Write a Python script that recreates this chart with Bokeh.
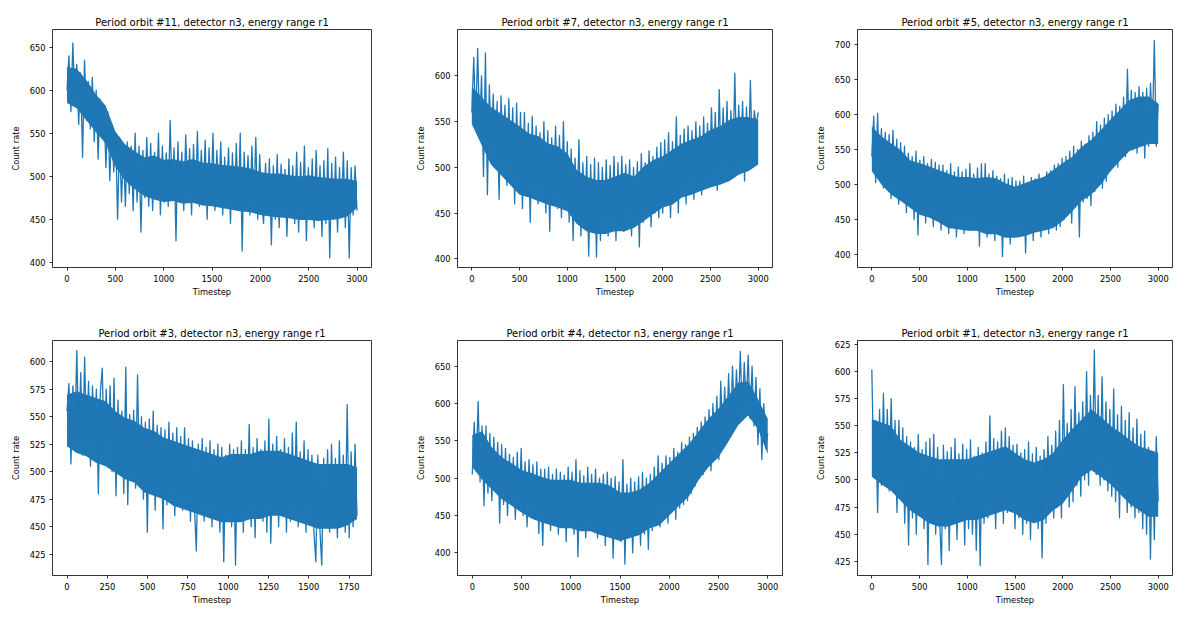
import numpy as np
from bokeh.plotting import figure
from bokeh.layouts import column, row
from bokeh.models import FixedTicker, Range1d
from bokeh.embed import file_html
from bokeh.resources import INLINE

titles = [
    "Period orbit #11, detector n3, energy range r1",
    "Period orbit #7, detector n3, energy range r1",
    "Period orbit #5, detector n3, energy range r1",
    "Period orbit #3, detector n3, energy range r1",
    "Period orbit #4, detector n3, energy range r1",
    "Period orbit #1, detector n3, energy range r1",
]
n_steps = [3000, 3000, 3000, 1800, 3000, 3000]

# sampled count-rate trace of each orbit (spikes included)
orbit11 = [600, 640, 575, 655, 590, 630,
           560, 620, 522, 635, 565, 610, 555,
           615, 540, 600, 520, 590, 545, 580, 510, 575, 495, 560, 505, 550,
           450, 545, 470, 530, 465, 540, 480, 535, 460, 550,
           470, 535, 435, 530, 475, 545, 465, 538, 460, 528, 480, 550, 455, 535, 470, 527, 465, 565, 475, 533,
           425, 540, 470, 528, 460, 548, 480, 532, 455, 537, 470, 552, 465, 530, 475, 542, 450, 533, 470, 550,
           460, 530, 470, 540, 455, 522, 475, 533, 445, 527, 465, 538, 460, 550, 413, 528, 470, 524, 455, 535,
           465, 545, 450, 525, 470,
           445, 515, 460, 520, 420, 512, 450, 525, 440, 514, 460, 508, 430, 520, 455, 512, 445, 528, 435, 516,
           460, 535, 425, 510, 450, 520, 440, 530, 455, 512, 430, 518, 445, 532, 405, 515, 450, 522, 435, 510,
           455, 528, 440, 518, 405, 510, 455, 512, 460]

orbit7 = [560, 620, 545, 630, 540, 600, 490, 625,
          470, 590, 520, 580, 500, 572, 465, 578, 510, 568, 480, 575, 495, 565, 460, 570, 485, 560,
          455, 560, 470, 548, 440, 556, 480, 545, 460, 538, 470, 550, 450, 540, 430, 532, 475, 545, 455, 535,
          445, 550, 465, 528,
          440, 520, 420, 510, 450, 530, 425, 505, 445, 512, 403, 503, 430, 510, 402, 505, 420, 500, 440, 508,
          425, 502, 445, 512,
          420, 505, 440, 512, 430, 503, 450, 508, 425, 500, 445, 506, 413, 515, 440, 505, 455, 518, 435, 512,
          450, 522, 445, 527,
          450, 530, 465, 538, 445, 528, 470, 555, 450, 535, 475, 542, 460, 545, 480, 540, 465, 550, 475, 545,
          470, 555, 480, 548,
          485, 565, 500, 560, 475, 585, 495, 565, 505, 572, 490, 562, 500, 603, 495, 568, 510, 572, 485, 566,
          500, 595, 505, 562, 545, 560]

orbit5 = [540, 598, 503,
          602, 510, 580, 495, 575, 500, 572, 480, 578, 490, 565, 472, 560,
          480, 555, 460, 545, 470, 540, 450, 548, 428, 535, 465, 540, 445, 530, 470, 536, 440, 532, 460, 528,
          435, 528, 450, 520, 430, 530, 445, 518, 425, 525, 455, 518, 430, 522, 440, 530, 435, 515, 450, 524,
          412, 530, 440, 530, 425, 515, 445, 520, 420, 512, 440, 508, 397, 515, 430, 508, 415, 510, 440, 505,
          425, 505, 440, 512, 402, 503, 430, 510, 420, 508, 445, 515, 425, 510, 440, 518, 430, 520, 445, 528,
          435, 530, 440, 538,
          450, 540, 460, 548, 445, 555, 470, 550, 425, 562, 475, 558, 480, 570, 470, 575, 490, 590, 500, 585,
          495, 595, 505, 600,
          520, 605, 535, 615, 525, 612, 545, 625, 540, 665, 555, 635, 550, 632, 545, 640, 560, 632, 538, 638,
          555, 645, 575, 706, 555, 615]

orbit3 = [555, 580, 507, 578, 530, 610, 525, 590, 515,
          604, 525, 582, 505, 578, 530, 575, 480, 572, 594, 510, 575, 520, 578, 500, 585, 478,
          565, 500, 555, 480, 595, 470, 552, 495, 556, 485, 588, 490, 550, 475, 545, 445, 548,
          480, 555, 465, 542, 490, 540, 448, 538, 470, 545, 485, 535, 460, 540, 475, 532, 465, 540, 480, 530,
          455,
          528, 470, 428, 525, 465, 530, 455, 522, 470, 528, 450, 520, 465, 525, 445, 522, 418, 515, 460, 525,
          450, 520, 415, 522, 455, 528, 445, 520, 465, 543, 450, 522, 440, 530, 460, 520, 455, 528, 445, 548,
          435, 525, 465, 532, 450, 520, 460, 530, 445, 522, 455, 535, 465, 545, 450, 518, 460, 528, 445, 520,
          455,
          515, 445, 418, 515, 450, 415, 512, 455, 520, 445, 525, 455, 512, 440, 528, 450, 515, 445, 561, 440,
          518, 450, 525, 460]

orbit4 = [505, 575, 510, 603, 495, 570,
          463, 570, 480, 560, 470, 555, 485, 548, 440, 545,
          465, 540, 450, 532, 470, 528, 445, 535, 460, 540, 450, 522, 435, 525, 465, 518, 445, 522, 426, 512,
          410, 512, 440, 515, 430, 505, 445, 512, 425, 508, 440, 504, 415, 515, 435, 508, 425, 525, 395, 510,
          435, 503, 420, 515, 440, 505, 430, 512, 420, 500, 435, 505, 410, 508, 430, 500, 393, 502, 425, 495,
          415, 525, 385, 492, 420, 500, 400, 495, 430, 502, 410, 508, 425, 500, 405, 505, 430, 515, 440, 530,
          435, 520, 450, 530, 440, 528, 455, 540, 445, 535, 460, 548, 465, 545, 470, 555, 480, 560, 490, 568,
          500, 575, 505, 582, 515, 592, 510, 600, 530, 610, 525, 630, 545, 622, 555, 640, 565, 650, 575, 645,
          590, 670, 585, 655, 595, 665, 580, 650, 570, 635, 545, 620, 525, 600, 540, 560]

orbit1 = [602, 510, 555,
          470, 565, 495, 580, 500, 565, 490, 575, 505, 555, 470, 555, 490,
          548, 460, 540, 440, 535, 465, 530, 450, 542, 470, 528, 455, 535, 422, 538, 460, 542, 450, 530, 465,
          422, 532, 455, 526, 435, 530, 460, 538, 445, 524, 465, 533, 440, 528, 455, 537, 450, 522, 435, 530,
          421, 525, 460, 535,
          465, 559, 470, 538, 455, 535, 475, 545, 460, 548, 470, 540, 480, 532, 455,
          533, 465, 525, 450, 528, 460, 535, 445, 524, 465, 530, 455, 522, 428, 528, 460, 540, 470, 532, 465,
          545, 475, 555, 465, 588, 490, 552, 475, 565, 480, 586, 495, 562, 485, 572, 500, 600, 495, 578, 510,
          620, 505, 578, 495, 595, 500, 572, 490, 565, 485,
          584, 480, 560, 465, 568, 485, 555, 470, 562, 475, 548, 465, 556, 470, 542,
          455, 545, 450, 530, 427, 525, 445, 540, 480]

# dense core of each trace (where thousands of samples overlap), 31 even steps
core11_hi = [627, 625, 612, 595, 582, 552, 537, 529, 522, 524, 519, 520, 517, 520, 516, 515, 513, 512,
             511, 509, 505, 503, 503, 501, 500, 501, 499, 498, 497, 497, 494]
core11_lo = [585, 579, 565, 551, 538, 511, 495, 485, 477, 473, 470, 471, 468, 469, 466, 465, 463, 461,
             459, 458, 455, 453, 452, 451, 449, 449, 448, 449, 450, 453, 463]
core7_hi = [588, 577, 566, 559, 552, 545, 537, 534, 526, 523, 515, 497, 490, 486, 486, 490, 494, 490,
            501, 508, 512, 519, 526, 530, 534, 541, 545, 552, 555, 555, 552]
core7_lo = [547, 525, 503, 492, 481, 470, 467, 463, 459, 456, 452, 438, 430, 427, 427, 430, 430, 434,
            441, 449, 456, 459, 467, 470, 474, 478, 481, 485, 492, 496, 503]
core5_hi = [583, 569, 559, 550, 535, 531, 526, 521, 516, 511, 511, 509, 511, 509, 502, 497, 502, 507,
            511, 521, 531, 540, 554, 564, 578, 593, 607, 621, 626, 626, 616]
core5_lo = [519, 500, 486, 477, 467, 457, 453, 446, 438, 436, 434, 434, 429, 429, 424, 424, 426, 431,
            434, 438, 448, 462, 477, 486, 500, 519, 534, 548, 553, 558, 558]
core3_hi = [570, 573, 570, 567, 564, 555, 549, 546, 540, 537, 531, 528, 525, 522, 519, 516, 513, 516,
            516, 516, 519, 519, 519, 516, 513, 510, 507, 507, 507, 507, 504]
core3_lo = [523, 517, 514, 508, 505, 499, 493, 490, 481, 478, 475, 469, 466, 463, 460, 457, 454, 454,
            454, 457, 457, 460, 460, 457, 454, 451, 448, 448, 448, 451, 457]
core4_hi = [558, 563, 541, 528, 520, 511, 507, 502, 498, 498, 498, 494, 494, 494, 490, 481, 481, 485,
            494, 507, 520, 533, 546, 563, 580, 593, 610, 628, 630, 606, 580]
core4_lo = [515, 498, 485, 472, 463, 454, 446, 441, 437, 433, 433, 429, 429, 424, 420, 416, 420, 424,
            433, 437, 450, 463, 476, 498, 515, 528, 549, 571, 584, 566, 532]
core1_hi = [556, 553, 550, 537, 531, 525, 522, 519, 519, 519, 519, 522, 525, 528, 531, 525, 519, 516,
            519, 525, 537, 547, 556, 565, 558, 550, 544, 537, 531, 528, 525]
core1_lo = [503, 496, 490, 481, 472, 466, 460, 457, 457, 460, 463, 463, 466, 469, 472, 469, 463, 460,
            463, 472, 478, 490, 503, 509, 503, 496, 487, 478, 472, 466, 466]

series = [orbit11, orbit7, orbit5, orbit3, orbit4, orbit1]
cores = [(core11_lo, core11_hi), (core7_lo, core7_hi), (core5_lo, core5_hi),
         (core3_lo, core3_hi), (core4_lo, core4_hi), (core1_lo, core1_hi)]

x_ticks_3000 = [0, 500, 1000, 1500, 2000, 2500, 3000]
x_ticks_1800 = [0, 250, 500, 750, 1000, 1250, 1500, 1750]
y_ticks = [
    [400, 450, 500, 550, 600, 650],
    [400, 450, 500, 550, 600],
    [400, 450, 500, 550, 600, 650, 700],
    [425, 450, 475, 500, 525, 550, 575, 600],
    [400, 450, 500, 550, 600, 650],
    [425, 450, 475, 500, 525, 550, 575, 600, 625],
]
y_ranges = [(393.8, 670.6), (390.5, 650.6), (381.4, 721.9),
            (405.6, 619.2), (369.7, 684.5), (411.8, 628.7)]

# ---- layout (width, height, border left, right, top, bottom) ----
dims = [
    (412, 305, 52, 41, 29, 38),
    (400, 305, 40, 40, 29, 38),
    (380, 305, 40, 20, 29, 38),
    (412, 308, 52, 41, 34, 37),
    (400, 308, 42, 30, 35, 29),
    (380, 308, 40, 20, 34, 38),
]

FONT = "DejaVu Sans"
BLUE = "#1f77b4"

figs = []
for i in range(6):
    w, h, bl, br, bt, bb = dims[i]
    n = n_steps[i]
    vals = series[i]
    xs = np.linspace(0, n - 1, len(vals))
    lo, hi = cores[i]
    xc = np.linspace(0, n - 1, len(lo))
    margin = 0.05 * (n - 1)
    p = figure(width=w, height=h, output_backend="svg", toolbar_location=None,
               x_range=Range1d(-margin, n - 1 + margin),
               y_range=Range1d(*y_ranges[i]),
               min_border_left=bl, min_border_right=br,
               min_border_top=bt, min_border_bottom=bb)
    p.varea(x=xc, y1=lo, y2=hi, fill_color=BLUE, fill_alpha=1.0)
    p.line(xs, vals, line_color=BLUE, line_width=1.3, line_join="round")
    p.title.text = titles[i]
    p.title.align = "center"
    p.title.text_font = FONT
    p.title.text_font_size = "10px"
    p.title.text_font_style = "normal"
    p.title.text_color = "black"
    p.title.standoff = 4
    p.xgrid.visible = False
    p.ygrid.visible = False
    p.outline_line_color = "black"
    p.outline_line_width = 0.8
    p.background_fill_color = "white"
    p.border_fill_color = "white"
    p.xaxis.ticker = FixedTicker(ticks=x_ticks_1800 if n == 1800 else x_ticks_3000)
    p.yaxis.ticker = FixedTicker(ticks=y_ticks[i])
    p.xaxis.axis_label = "Timestep"
    p.yaxis.axis_label = "Count rate"
    for ax in (p.xaxis, p.yaxis):
        ax.axis_line_color = None
        ax.major_tick_line_color = "black"
        ax.major_tick_line_width = 0.8
        ax.major_tick_out = 3
        ax.major_tick_in = 0
        ax.minor_tick_line_color = None
        ax.major_label_text_font = FONT
        ax.major_label_text_font_size = "8.3px"
        ax.major_label_text_color = "black"
        ax.axis_label_text_font = FONT
        ax.axis_label_text_font_size = "8.3px"
        ax.axis_label_text_font_style = "normal"
        ax.axis_label_text_color = "black"
    p.xaxis.major_label_standoff = 4
    p.xaxis.axis_label_standoff = 2
    p.yaxis.major_label_standoff = 4
    p.yaxis.axis_label_standoff = 6
    figs.append(p)

layout = column(row(figs[0], figs[1], figs[2]), row(figs[3], figs[4], figs[5]))

with open("out.html", "w") as f:
    f.write(file_html(layout, INLINE))
